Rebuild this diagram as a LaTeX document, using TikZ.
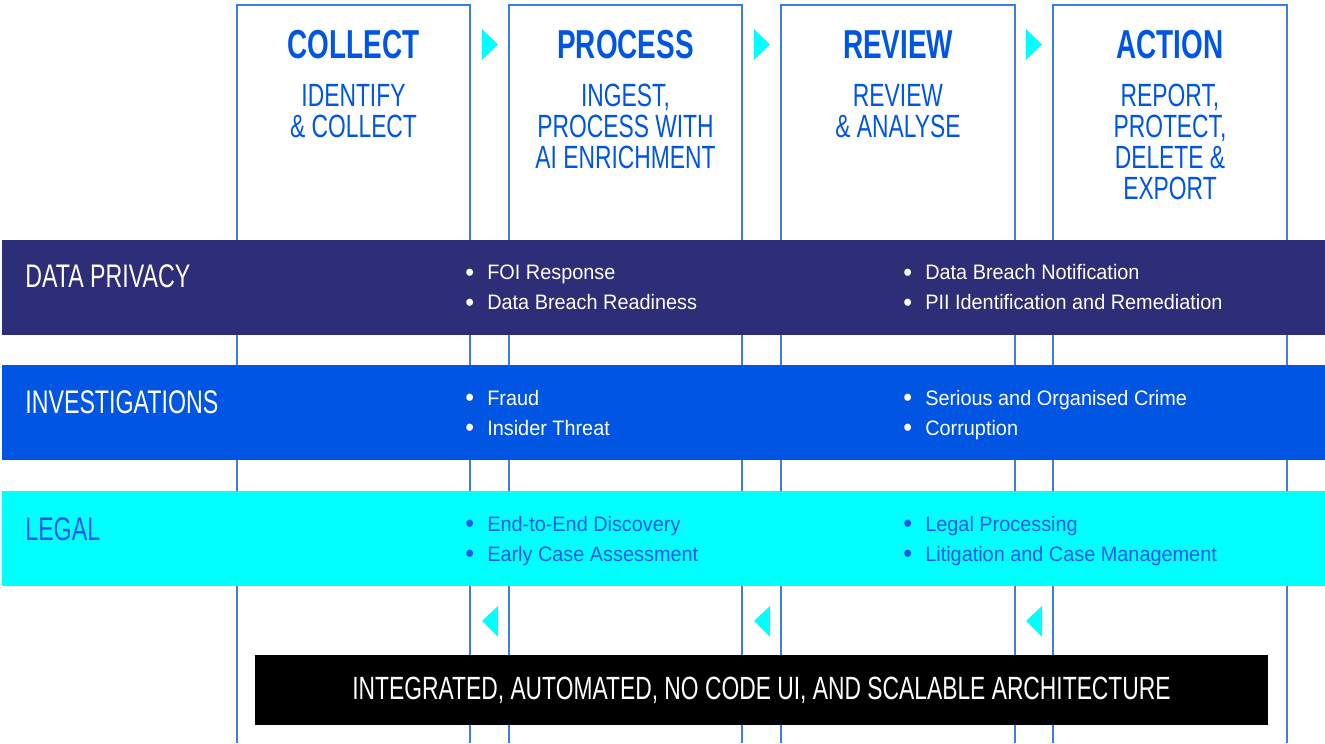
\documentclass[tikz,border=0pt]{standalone}
\usepackage{fontspec}
\setmainfont[FakeStretch=0.95]{Liberation Sans}
\newfontfamily\narrowfont[FakeStretch=0.71]{Liberation Sans}
\newfontfamily\narrowboldfont[FakeStretch=0.69]{Liberation Sans Bold}

\definecolor{colline}{RGB}{60,125,230}
\definecolor{headblue}{RGB}{0,85,226}
\definecolor{privacyband}{RGB}{46,46,120}
\definecolor{investband}{RGB}{0,85,226}
\definecolor{legalband}{RGB}{0,255,255}
\definecolor{legaltext}{RGB}{30,90,235}
\definecolor{tipcyan}{RGB}{0,255,255}

\newcommand{\itemdot}{\makebox[12.5pt][l]{\raisebox{-0.8pt}{\fontsize{15}{15}\selectfont\textbullet}}}

\tikzset{
  column/.style={draw=colline, line width=0.03cm},
  heading/.style={anchor=base, inner sep=0pt, text=headblue,
    font=\narrowboldfont\fontsize{23}{23}\selectfont},
  subheading/.style={anchor=north, inner sep=0pt, align=center, text=headblue,
    font=\narrowfont\fontsize{18.3}{17.6}\selectfont},
  bandtitle/.style={anchor=base west, inner sep=0pt,
    font=\narrowfont\fontsize{18.6}{18.6}\selectfont},
  item/.style={anchor=base west, inner sep=0pt,
    font=\fontsize{11.9}{11.9}\selectfont},
  flowtip/.style={fill=tipcyan},
}

\begin{document}
\begin{tikzpicture}
\useasboundingbox (0,0) rectangle (26.500000,14.860000);

% Drawing columns
\draw [column] (4.740000,0) -- (4.740000,14.760000) -- (9.400000,14.760000) -- (9.400000,0);%
\draw [column] (10.180000,0) -- (10.180000,14.760000) -- (14.840000,14.760000) -- (14.840000,0);%
\draw [column] (15.620000,0) -- (15.620000,14.760000) -- (20.300000,14.760000) -- (20.300000,0);%
\draw [column] (21.060000,0) -- (21.060000,14.760000) -- (25.740000,14.760000) -- (25.740000,0);%

% Marking column headings
\node [heading] (collect) at (7.070000,13.680000) {COLLECT};%
\node [heading] (process) at (12.510000,13.680000) {PROCESS};%
\node [heading] (review) at (17.960000,13.680000) {REVIEW};%
\node [heading] (action) at (23.400000,13.680000) {ACTION};%

\node [subheading] (collectsub) at (7.070000,13.180000) {IDENTIFY\\ \& COLLECT};%
\node [subheading] (processsub) at (12.510000,13.180000) {INGEST,\\ PROCESS WITH\\ AI ENRICHMENT};%
\node [subheading] (reviewsub) at (17.960000,13.180000) {REVIEW\\ \& ANALYSE};%
\node [subheading] (actionsub) at (23.400000,13.180000) {REPORT,\\ PROTECT,\\ DELETE \&\\ EXPORT};%

% Drawing forward tips
\fill [flowtip] (9.640000,14.280000) -- (9.960000,13.970000) -- (9.640000,13.660000) -- cycle;%
\fill [flowtip] (15.080000,14.280000) -- (15.400000,13.970000) -- (15.080000,13.660000) -- cycle;%
\fill [flowtip] (20.520000,14.280000) -- (20.840000,13.970000) -- (20.520000,13.660000) -- cycle;%

% Drawing backward tips
\fill [flowtip] (9.960000,2.740000) -- (9.640000,2.440000) -- (9.960000,2.120000) -- cycle;%
\fill [flowtip] (15.400000,2.740000) -- (15.080000,2.440000) -- (15.400000,2.120000) -- cycle;%
\fill [flowtip] (20.840000,2.740000) -- (20.520000,2.440000) -- (20.840000,2.120000) -- cycle;%

% Drawing band DATA PRIVACY
\fill [privacyband] (0.040000,8.160000) rectangle (26.500000,10.060000);%
\node [bandtitle, text=white] (privacy) at (0.500000,9.100000) {DATA PRIVACY};%
\node [item, text=white] (privacya) at (9.300000,9.260000) {\itemdot FOI Response};%
\node [item, text=white] (privacyb) at (9.300000,8.660000) {\itemdot Data Breach Readiness};%
\node [item, text=white] (privacyc) at (18.060000,9.260000) {\itemdot Data Breach Notification};%
\node [item, text=white] (privacyd) at (18.060000,8.660000) {\itemdot PII Identification and Remediation};%

% Drawing band INVESTIGATIONS
\fill [investband] (0.040000,5.660000) rectangle (26.500000,7.560000);%
\node [bandtitle, text=white] (invest) at (0.500000,6.580000) {INVESTIGATIONS};%
\node [item, text=white] (investa) at (9.300000,6.760000) {\itemdot Fraud};%
\node [item, text=white] (investb) at (9.300000,6.160000) {\itemdot Insider Threat};%
\node [item, text=white] (investc) at (18.060000,6.760000) {\itemdot Serious and Organised Crime};%
\node [item, text=white] (investd) at (18.060000,6.160000) {\itemdot Corruption};%

% Drawing band LEGAL
\fill [legalband] (0.040000,3.140000) rectangle (26.500000,5.040000);%
\node [bandtitle, text=legaltext] (legal) at (0.500000,4.060000) {LEGAL};%
\node [item, text=legaltext] (legala) at (9.300000,4.240000) {\itemdot End-to-End Discovery};%
\node [item, text=legaltext] (legalb) at (9.300000,3.640000) {\itemdot Early Case Assessment};%
\node [item, text=legaltext] (legalc) at (18.060000,4.240000) {\itemdot Legal Processing};%
\node [item, text=legaltext] (legald) at (18.060000,3.640000) {\itemdot Litigation and Case Management};%

% Drawing architecture bar
\node [fill=black, text=white, inner sep=0pt, minimum width=20.260000cm, minimum height=1.400000cm,
  font=\narrowfont\fontsize{18.3}{18.3}\selectfont] (arch) at (15.230000,1.060000)
  {INTEGRATED, AUTOMATED, NO CODE UI, AND SCALABLE ARCHITECTURE};%
\end{tikzpicture}
\end{document}
